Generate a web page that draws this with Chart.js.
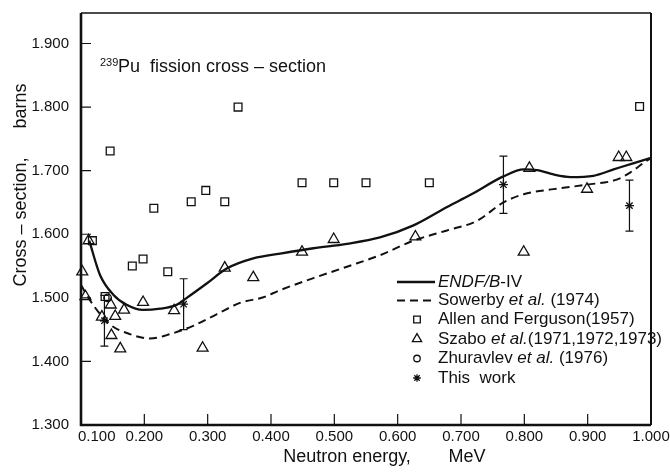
<!DOCTYPE html>
<html>
<head>
<meta charset="utf-8">
<title>239Pu fission cross-section</title>
<script src="https://cdn.jsdelivr.net/npm/chart.js@4.4.0/dist/chart.umd.min.js"></script>
<style>
    html, body { margin: 0; padding: 0; background: #fff; }
    #wrap { width: 670px; height: 476px; }
</style>
</head>
<body>
<div id="wrap"><canvas id="pfChart" width="670" height="476"></canvas></div>
<script>
// ticks
const xTicks = [0.1, 0.2, 0.3, 0.4, 0.5, 0.6, 0.7, 0.8, 0.9, 1.0];
const yTicks = [1.3, 1.4, 1.5, 1.6, 1.7, 1.8, 1.9];

// ENDF/B-IV evaluation (solid)
const endfX = [0.113, 0.130, 0.151, 0.172, 0.198, 0.225, 0.251, 0.267, 0.299, 0.330, 0.372, 0.417, 0.467, 0.520, 0.572, 0.625, 0.678, 0.715, 0.767, 0.799, 0.820, 0.846, 0.873, 0.909, 0.941, 0.973, 1.000];
const endfY = [1.590, 1.536, 1.505, 1.489, 1.481, 1.483, 1.489, 1.500, 1.523, 1.546, 1.562, 1.570, 1.578, 1.585, 1.595, 1.614, 1.643, 1.662, 1.691, 1.702, 1.701, 1.694, 1.690, 1.692, 1.702, 1.712, 1.720];

// Sowerby et al. (dashed)
const sowerbyX = [0.100, 0.119, 0.146, 0.177, 0.209, 0.241, 0.277, 0.314, 0.351, 0.388, 0.414, 0.467, 0.520, 0.572, 0.625, 0.678, 0.725, 0.767, 0.799, 0.846, 0.899, 0.946, 0.967, 0.988, 1.000];
const sowerbyY = [1.520, 1.489, 1.458, 1.443, 1.436, 1.443, 1.456, 1.474, 1.492, 1.501, 1.512, 1.531, 1.549, 1.567, 1.590, 1.606, 1.621, 1.650, 1.663, 1.671, 1.678, 1.686, 1.697, 1.712, 1.720];

// Allen and Ferguson (squares)
const allenX = [0.118, 0.138, 0.146, 0.181, 0.198, 0.215, 0.237, 0.274, 0.297, 0.327, 0.348, 0.449, 0.499, 0.550, 0.650, 0.982];
const allenY = [1.590, 1.502, 1.731, 1.550, 1.561, 1.641, 1.541, 1.651, 1.669, 1.651, 1.800, 1.681, 1.681, 1.681, 1.681, 1.801];

// Szabo et al. (triangles)
const szaboX = [0.102, 0.107, 0.112, 0.133, 0.147, 0.148, 0.154, 0.162, 0.168, 0.198, 0.247, 0.292, 0.327, 0.372, 0.449, 0.499, 0.628, 0.799, 0.808, 0.899, 0.949, 0.961];
const szaboY = [1.541, 1.502, 1.590, 1.470, 1.489, 1.441, 1.471, 1.420, 1.481, 1.493, 1.480, 1.421, 1.547, 1.532, 1.572, 1.592, 1.596, 1.572, 1.704, 1.671, 1.721, 1.721];

// Zhuravlev et al. (circle)
const zhuravlevX = [0.142];
const zhuravlevY = [1.500];

// This work (stars + error bars)
const thisWorkX = [0.137, 0.262, 0.767, 0.966];
const thisWorkY = [1.464, 1.490, 1.678, 1.645];
const thisWorkErr = [0.040, 0.040, 0.045, 0.040];

const pts = (xs, ys) => xs.map((x, i) => ({ x: x, y: ys[i] }));

const FONT = '"Liberation Sans", Arial, sans-serif';
const INK = '#111';

// legend rows: segments of [text, italic]
const legendRows = [
    [['ENDF/B', true], ['-IV', false]],
    [['Sowerby ', false], ['et al.', true], [' (1974)', false]],
    [['Allen and Ferguson(1957)', false]],
    [['Szabo ', false], ['et al.', true], ['(1971,1972,1973)', false]],
    [['Zhuravlev ', false], ['et al.', true], [' (1976)', false]],
    [['This  work', false]]
];

// error bars, frame, inward ticks, tick labels, titles, legend
const decorPlugin = {
    id: 'decor',
    afterDatasetsDraw(chart) {
        const ctx = chart.ctx;
        const xs = chart.scales.x, ys = chart.scales.y;
        ctx.save();
        ctx.strokeStyle = INK;
        ctx.lineWidth = 1.2;
        thisWorkX.forEach((x, i) => {
            const px = xs.getPixelForValue(x);
            const top = ys.getPixelForValue(thisWorkY[i] + thisWorkErr[i]);
            const bot = ys.getPixelForValue(thisWorkY[i] - thisWorkErr[i]);
            ctx.beginPath();
            ctx.moveTo(px, top); ctx.lineTo(px, bot);
            ctx.moveTo(px - 4, top); ctx.lineTo(px + 4, top);
            ctx.moveTo(px - 4, bot); ctx.lineTo(px + 4, bot);
            ctx.stroke();
        });
        ctx.restore();
    },
    afterDraw(chart) {
        const ctx = chart.ctx;
        const a = chart.chartArea;
        const xs = chart.scales.x, ys = chart.scales.y;
        ctx.save();
        ctx.strokeStyle = INK;
        ctx.fillStyle = INK;

        // frame
        ctx.lineWidth = 2.6;
        ctx.beginPath();
        ctx.moveTo(a.left, a.top); ctx.lineTo(a.left, a.bottom); ctx.lineTo(a.right, a.bottom);
        ctx.stroke();
        ctx.lineWidth = 2;
        ctx.beginPath();
        ctx.moveTo(a.right, a.bottom); ctx.lineTo(a.right, a.top);
        ctx.stroke();
        ctx.lineWidth = 1.4;
        ctx.beginPath();
        ctx.moveTo(a.left, a.top); ctx.lineTo(a.right, a.top);
        ctx.stroke();

        // inward tick marks
        ctx.lineWidth = 1.2;
        ctx.beginPath();
        yTicks.forEach(v => {
            const py = ys.getPixelForValue(v);
            ctx.moveTo(a.left, py); ctx.lineTo(a.left + 10, py);
        });
        xTicks.forEach(v => {
            const px = xs.getPixelForValue(v);
            ctx.moveTo(px, a.bottom); ctx.lineTo(px, a.bottom - 11);
        });
        ctx.stroke();

        // x tick labels
        ctx.font = '15px ' + FONT;
        ctx.textBaseline = 'middle';
        xTicks.forEach((v, i) => {
            const px = xs.getPixelForValue(v);
            ctx.textAlign = i === 0 ? 'left' : 'center';
            ctx.fillText(v.toFixed(3), i === 0 ? px - 3 : px, a.bottom + 12);
        });

        // chart title with superscript
        ctx.textAlign = 'left';
        ctx.textBaseline = 'alphabetic';
        ctx.font = '11px ' + FONT;
        ctx.fillText('239', 100, 66);
        ctx.font = '18px ' + FONT;
        ctx.fillText('Pu  fission cross – section', 118, 72);

        // axis titles
        ctx.font = '18px ' + FONT;
        ctx.textBaseline = 'middle';
        ctx.textAlign = 'center';
        ctx.fillText('Neutron energy,', 347, 457);
        ctx.fillText('MeV', 467, 457);
        ctx.save();
        ctx.translate(21, 0);
        ctx.rotate(-Math.PI / 2);
        ctx.fillText('Cross – section,', -222, 0);
        ctx.fillText('barns', -106, 0);
        ctx.restore();

        // legend
        const rowY = [282, 300.5, 319.5, 339, 358.5, 378];
        chart.data.datasets.forEach((ds, i) => {
            const y = rowY[i];
            ctx.save();
            ctx.lineWidth = ds.borderWidth;
            if (ds.showLine) {
                ctx.setLineDash(ds.borderDash || []);
                ctx.beginPath();
                ctx.moveTo(397, y); ctx.lineTo(435, y);
                ctx.stroke();
            } else {
                ctx.fillStyle = 'rgba(0,0,0,0)';
                Chart.helpers.drawPoint(ctx, {
                    pointStyle: ds.pointStyle,
                    radius: ds.pointRadius * 0.85,
                    rotation: 0,
                    borderWidth: ds.borderWidth
                }, 417, y);
            }
            ctx.restore();
            let tx = 438;
            ctx.textAlign = 'left';
            legendRows[i].forEach(([t, it]) => {
                ctx.font = (it ? 'italic ' : '') + '17px ' + FONT;
                ctx.fillText(t, tx, y);
                tx += ctx.measureText(t).width;
            });
        });

        ctx.restore();
    }
};

const markerBase = {
    showLine: false,
    borderColor: INK,
    backgroundColor: 'rgba(0,0,0,0)',
    borderWidth: 1.3,
    clip: 8
};

new Chart(document.getElementById('pfChart'), {
    type: 'scatter',
    data: {
        datasets: [
            {
                label: 'ENDF/B-IV',
                data: pts(endfX, endfY),
                showLine: true,
                borderColor: INK,
                borderWidth: 2.3,
                pointRadius: 0,
                cubicInterpolationMode: 'monotone',
                fill: false
            },
            {
                label: 'Sowerby et al. (1974)',
                data: pts(sowerbyX, sowerbyY),
                showLine: true,
                borderColor: INK,
                borderWidth: 2,
                borderDash: [8, 5],
                pointRadius: 0,
                cubicInterpolationMode: 'monotone',
                fill: false
            },
            Object.assign({ label: 'Allen and Ferguson(1957)', data: pts(allenX, allenY), pointStyle: 'rect', pointRadius: 5.5 }, markerBase),
            Object.assign({ label: 'Szabo et al. (1971,1972,1973)', data: pts(szaboX, szaboY), pointStyle: 'triangle', pointRadius: 6.3 }, markerBase),
            Object.assign({ label: 'Zhuravlev et al. (1976)', data: pts(zhuravlevX, zhuravlevY), pointStyle: 'circle', pointRadius: 3.8 }, markerBase),
            Object.assign({ label: 'This work', data: pts(thisWorkX, thisWorkY), pointStyle: 'star', pointRadius: 4.5 }, markerBase)
        ]
    },
    options: {
        responsive: false,
        animation: false,
        devicePixelRatio: 1,
        layout: { padding: { left: 0, top: 8, right: 19, bottom: 0 } },
        plugins: {
            legend: { display: false },
            tooltip: { enabled: false },
            title: { display: false }
        },
        scales: {
            x: {
                type: 'linear',
                min: 0.1,
                max: 1.0,
                grid: { display: false },
                border: { display: false },
                ticks: { display: false },
                afterBuildTicks: s => { s.ticks = xTicks.map(v => ({ value: v })); },
                afterFit: s => { s.height = 51; }
            },
            y: {
                type: 'linear',
                min: 1.3,
                max: 1.948,
                grid: { display: false },
                border: { display: false },
                ticks: {
                    color: INK,
                    padding: 4,
                    font: { family: FONT, size: 15 },
                    callback: v => v.toFixed(3)
                },
                afterBuildTicks: s => { s.ticks = yTicks.map(v => ({ value: v })); },
                afterFit: s => { s.width = 81; }
            }
        }
    },
    plugins: [decorPlugin]
});
</script>
</body>
</html>
